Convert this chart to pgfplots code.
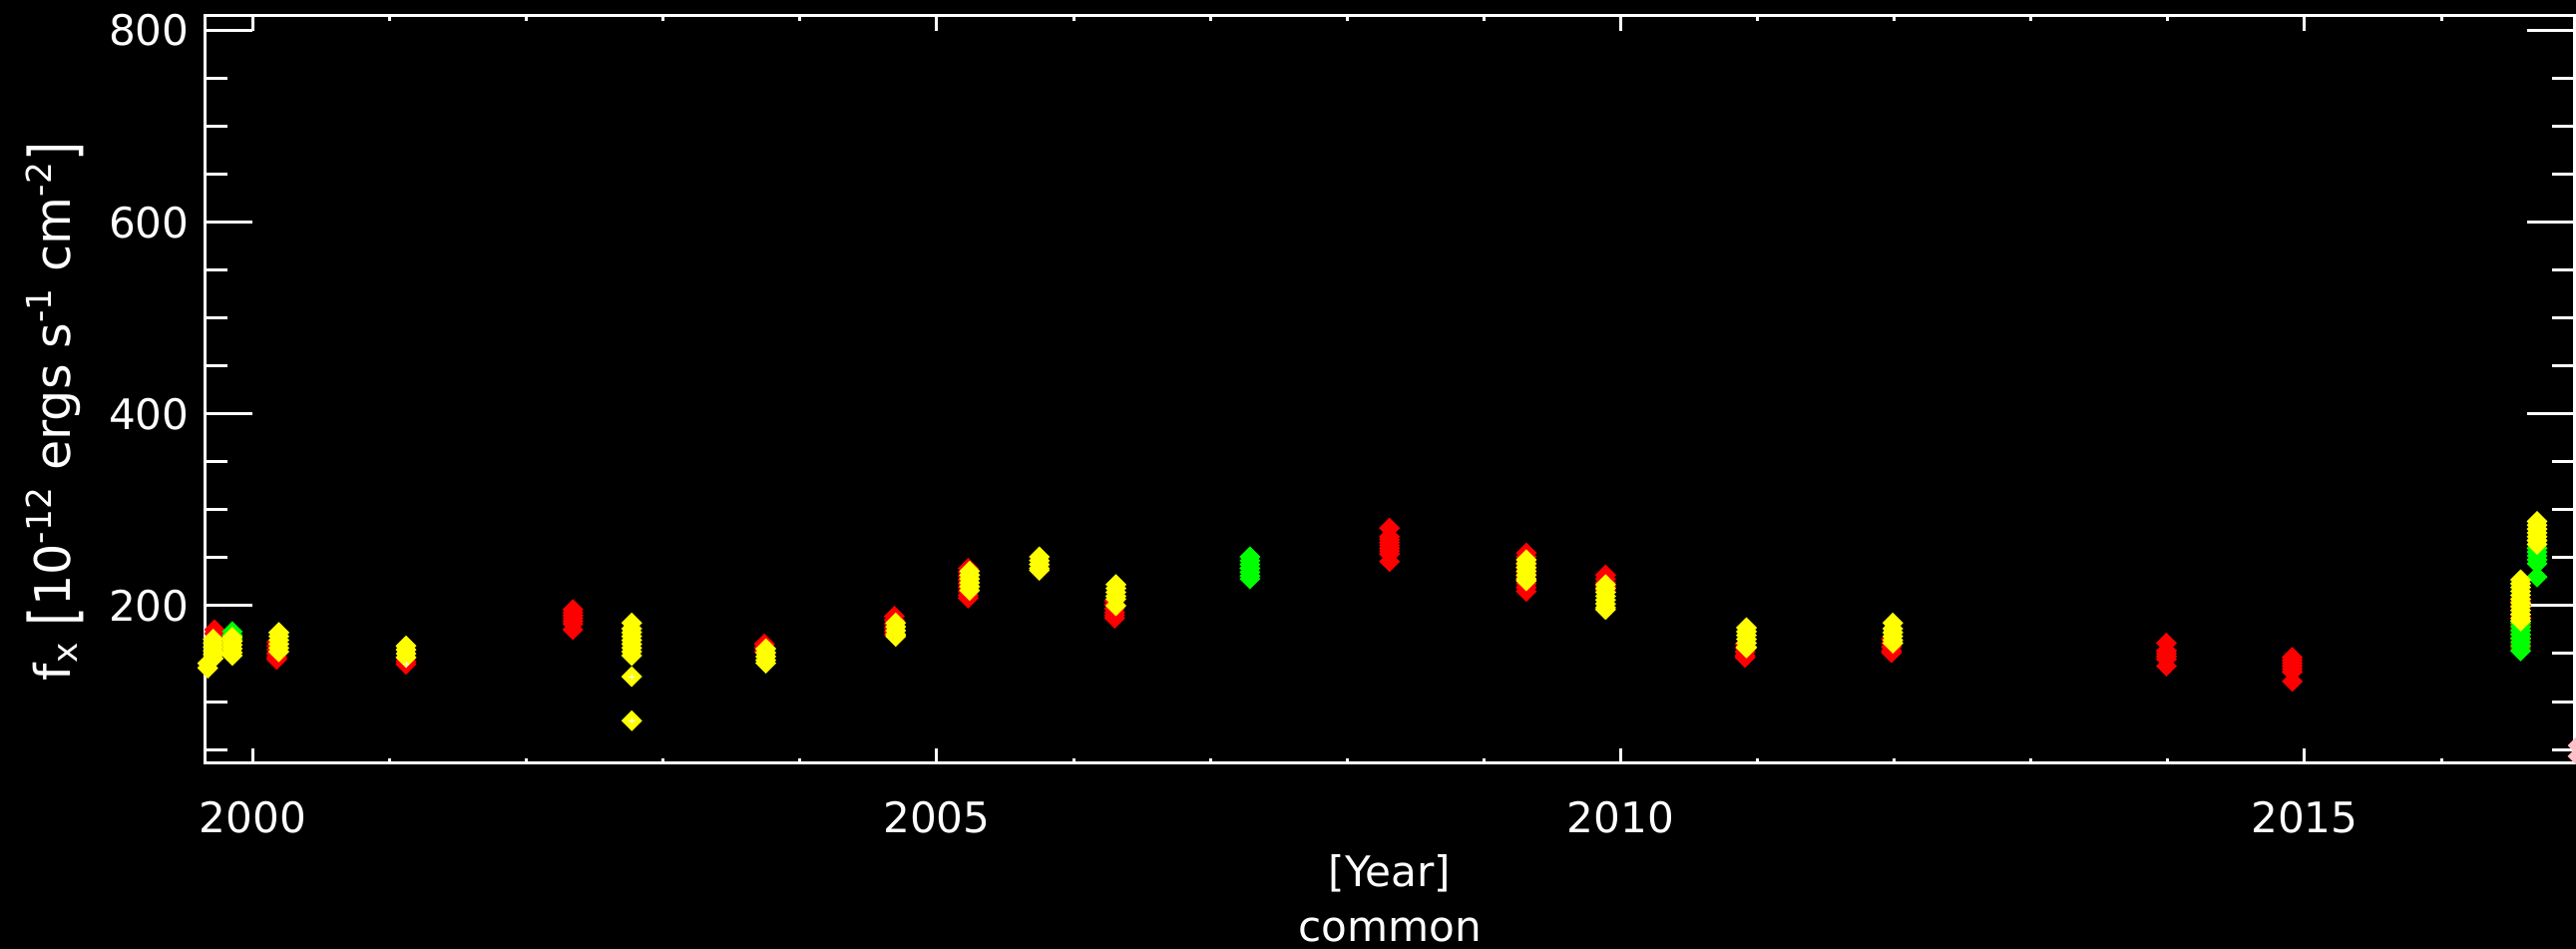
\documentclass[border=0pt]{standalone}
\usepackage{fontspec}
\setmainfont{DejaVu Sans}
\usepackage{pgfplots}
\usepackage{pgfplotstable}
\pgfplotsset{compat=1.18}

\definecolor{idlred}{RGB}{255,0,0}
\definecolor{idlyellow}{RGB}{255,255,0}
\definecolor{idlgreen}{RGB}{0,255,0}
\definecolor{idlpink}{RGB}{255,190,200}

% flux per epoch, one table per colour
\pgfplotstableread{
year flux
1999.72 175
1999.72 171
2000.175 162
2000.175 158
2000.175 154
2000.175 150
2000.175 146
2000.175 144
2001.12 146
2001.12 142
2001.12 139
2002.34 196
2002.34 193
2002.34 190
2002.34 187
2002.34 184
2002.34 181
2002.34 175
2003.74 160
2003.74 156
2003.74 152
2004.69 189
2004.69 185
2004.69 181
2004.69 177
2004.69 173
2004.69 170
2005.23 239
2005.23 235
2005.23 231
2005.23 227
2005.23 223
2005.23 219
2005.23 215
2005.23 211
2005.23 208
2006.30 205
2006.30 201
2006.30 197
2006.30 193
2006.30 190
2006.30 187
2008.31 281
2008.31 272
2008.31 269
2008.31 266
2008.31 263
2008.31 260
2008.31 257
2008.31 254
2008.31 246
2009.31 255
2009.31 251
2009.31 247
2009.31 243
2009.31 239
2009.31 235
2009.31 231
2009.31 227
2009.31 223
2009.31 219
2009.31 215
2009.89 232
2009.89 228
2009.89 224
2009.89 220
2009.89 216
2010.91 160
2010.91 156
2010.91 152
2010.91 148
2010.91 146
2011.98 165
2011.98 161
2011.98 157
2011.98 153
2011.98 151
2013.99 161
2013.99 153
2013.99 150
2013.99 147
2013.99 144
2013.99 137
2014.91 146
2014.91 143
2014.91 140
2014.91 137
2014.91 134
2014.91 131
2014.91 121
2016.58 205
2016.58 200
2016.58 195
2016.58 190
2016.58 185
2016.58 180
2016.58 175
2016.58 170
2016.58 165
2016.58 160
2016.58 156
}\redpts

\pgfplotstableread{
year flux
1999.85 173
1999.85 169
1999.85 165
2007.29 251
2007.29 247
2007.29 243
2007.29 239
2007.29 235
2007.29 231
2007.29 228
2016.58 182
2016.58 178
2016.58 174
2016.58 170
2016.58 166
2016.58 162
2016.58 158
2016.58 153
2016.70 260
2016.70 256
2016.70 252
2016.70 248
2016.70 244
2016.70 230
}\greenpts

\pgfplotstableread{
year flux
1999.67 140
1999.67 135
1999.71 165
1999.71 161
1999.71 157
1999.71 153
1999.71 149
1999.71 145
1999.85 167
1999.85 163
1999.85 159
1999.85 155
1999.85 151
1999.85 148
2000.19 172
2000.19 168
2000.19 164
2000.19 160
2000.19 156
2000.19 152
2001.12 158
2001.12 154
2001.12 150
2001.12 146
2002.77 182
2002.77 176
2002.77 172
2002.77 168
2002.77 164
2002.77 160
2002.77 156
2002.77 152
2002.77 148
2002.77 126
2002.77 80
2003.75 155
2003.75 151
2003.75 147
2003.75 143
2003.75 140
2004.70 182
2004.70 178
2004.70 174
2004.70 170
2004.70 168
2005.24 236
2005.24 232
2005.24 228
2005.24 224
2005.24 220
2005.24 216
2005.75 251
2005.75 247
2005.75 243
2005.75 239
2005.75 237
2006.31 222
2006.31 218
2006.31 214
2006.31 210
2006.31 207
2006.31 200
2009.31 248
2009.31 244
2009.31 240
2009.31 236
2009.31 232
2009.31 228
2009.31 226
2009.89 222
2009.89 218
2009.89 214
2009.89 210
2009.89 206
2009.89 202
2009.89 198
2009.89 196
2010.92 177
2010.92 173
2010.92 169
2010.92 165
2010.92 161
2010.92 157
2010.92 156
2011.99 182
2011.99 176
2011.99 172
2011.99 168
2011.99 164
2011.99 161
2016.58 227
2016.58 223
2016.58 219
2016.58 215
2016.58 211
2016.58 207
2016.58 203
2016.58 199
2016.58 195
2016.58 191
2016.58 187
2016.58 184
2016.70 288
2016.70 284
2016.70 280
2016.70 276
2016.70 272
2016.70 268
2016.70 264
}\yellowpts

\pgfplotstableread{
year flux
2017.00 54
2017.00 43
}\pinkpts

\pgfplotsset{
  fxframe/.style={
    scale only axis, width=237.4mm, height=74.93mm,
    at={(0,0)}, anchor=south west,
    xmin=1999.654, xmax=2016.97, ymin=35.5, ymax=815.6,
    axis line style={white, line width=0.3mm},
    every tick/.style={white, line width=0.3mm},
    tick align=inside,
    font=\fontsize{12}{14.4}\selectfont,
    ticklabel style={text=white},
    label style={text=white},
  },
  % filled diamonds, outline in the same colour as the fill
  diam/.style={only marks, color=#1, mark=square*, mark size=0.72mm,
    mark options={rotate=45, draw=#1, fill=#1, line width=0.1pt}},
}

\begin{document}
\begin{tikzpicture}
\fill[black] (-20.6mm,-18.6mm) rectangle (237.6mm,76.5mm);
% frame carrying the flux axis (long ticks)
\begin{axis}[fxframe,
  xtick=\empty,
  ytick={200,400,600,800}, yticklabels={200,400,600,800},
  minor ytick={50,100,150,250,300,350,450,500,550,650,700,750},
  major tick length=4.7mm, minor tick length=2.2mm,
  yticklabel style={xshift=-0.4mm},
  ylabel={f\textsubscript{x} \raisebox{-0.12em}{\scalebox{1}[1.3]{[}}10\textsuperscript{-12} ergs s\textsuperscript{-1} cm\textsuperscript{-2}\raisebox{-0.12em}{\scalebox{1}[1.3]{]}}},
  every axis y label/.style={at={(axis description cs:-0.0635,0.471)}, anchor=center, rotate=90, text=white, font=\fontsize{14}{17}\selectfont},
]
\end{axis}
% frame carrying the time axis and the measurements
\begin{axis}[fxframe,
  ytick=\empty,
  xtick={2000,2005,2010,2015}, xticklabels={2000,2005,2010,2015},
  minor xtick={2001,2002,2003,2004,2006,2007,2008,2009,2011,2012,2013,2014,2016},
  major tick length=1.5mm, minor tick length=0.5mm,
  xticklabel style={yshift=-2.6mm},
  xlabel={[Year]\\common},
  every axis x label/.style={at={(axis description cs:0.5,0)}, anchor=north, yshift=-9.1mm, align=center, inner sep=0pt, text=white, font=\fontsize{12}{15.5}\selectfont},
]
\addplot[diam=idlred] table {\redpts};
\addplot[diam=idlgreen] table {\greenpts};
\addplot[diam=idlyellow] table {\yellowpts};
% error bars smaller than the symbols
\addplot[only marks, mark=+, mark size=0.3mm, white, line width=0.25pt] coordinates {(2002.77,126) (2002.77,80) (2001.12,139)};
\end{axis}
% last epoch sits on the right edge and is drawn over the frame
\begin{axis}[fxframe, hide axis, clip=false]
\addplot[diam=idlpink] table {\pinkpts};
\end{axis}
\pgfresetboundingbox
\path[use as bounding box] (-20.6mm,-18.6mm) rectangle (237.6mm,76.5mm);
\end{tikzpicture}
\end{document}
